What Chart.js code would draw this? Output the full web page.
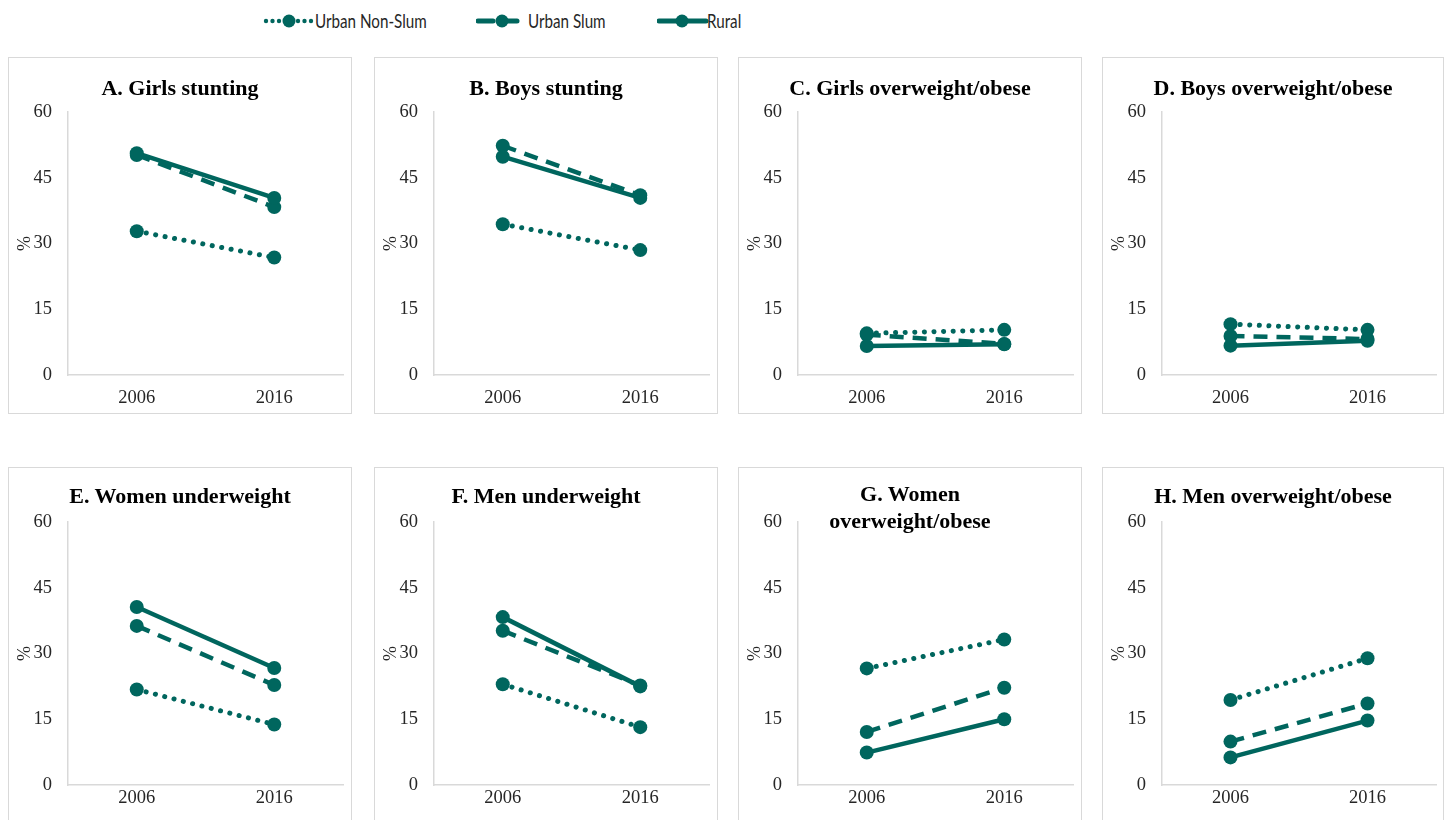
<!DOCTYPE html>
<html>
<head>
<meta charset="utf-8">
<script src="https://cdn.jsdelivr.net/npm/chart.js@4.4.1/dist/chart.umd.min.js"></script>
<style>
  body { margin: 0; background: #fff; width: 1448px; height: 820px; overflow: hidden; position: relative; font-family: 'Liberation Serif', 'Times New Roman', serif; }
  .panel { position: absolute; height: 357px; border: 1px solid #d9d9d9; box-sizing: border-box; background: #fff; }
  .panel canvas { position: absolute; left: 0; top: 0; }
  .ptitle { position: absolute; left: 0; right: 0; text-align: center; font-weight: bold; font-size: 22px; line-height: 27px; color: #000; z-index: 2; }
  .leg { position: absolute; top: 8px; height: 26px; }
  .leg svg { position: absolute; top: 0; }
  .leg span { position: absolute; top: 1px; font-family: Lato, 'Liberation Sans', sans-serif; font-size: 19px; color: #262626; white-space: nowrap; transform: scaleX(0.8); transform-origin: 0 50%; }
</style>
</head>
<body>
<div class="leg" id="legend"></div>
<div id="panels"></div>
<script>
// data
const years = ['2006', '2016'];
const seriesNames = ['Urban Non-Slum', 'Urban Slum', 'Rural'];
const panelTitles = [
  ['A. Girls stunting'],
  ['B. Boys stunting'],
  ['C. Girls overweight/obese'],
  ['D. Boys overweight/obese'],
  ['E. Women underweight'],
  ['F. Men underweight'],
  ['G. Women', 'overweight/obese'],
  ['H. Men overweight/obese'],
];
const urbanNonSlum = [[32.8, 26.8], [34.4, 28.5], [9.5, 10.3], [11.6, 10.3], [21.8, 13.8], [23.0, 13.2], [26.6, 33.2], [19.4, 28.9]];
const urbanSlum    = [[50.2, 38.3], [52.3, 41.0], [9.2, 7.1], [8.9, 8.2], [36.3, 22.8], [35.2, 22.7], [12.1, 22.2], [9.9, 18.6]];
const rural        = [[50.6, 40.4], [49.8, 40.4], [6.6, 7.0], [6.7, 7.8], [40.6, 26.7], [38.3, 22.5], [7.4, 15.0], [6.3, 14.7]];
const yTicks = [0, 15, 30, 45, 60];

const TEAL = '#00665e';
const AXIS = '#d9d9d9';
const TEXT = '#262626';
const SERIF = "'Liberation Serif', 'Times New Roman', serif";

// layout
const colLeft = [8, 374, 738, 1102];
const colWidth = [344, 344, 344, 342];
const rowTop = [57, 467];

const lineStyles = [
  { borderDash: [0.1, 9.5], borderCapStyle: 'round', borderWidth: 5, order: 3 },
  { borderDash: [14, 9], borderCapStyle: 'butt', borderWidth: 4.5, order: 2 },
  { borderDash: [], borderCapStyle: 'butt', borderWidth: 4.5, order: 1 },
];

function buildLegend() {
  const leg = document.getElementById('legend');
  const items = [
    { x: 262, w: 54, text: 315, svg: '<circle cx="4" cy="13" r="2.2"/><circle cx="10.5" cy="13" r="2.2"/><circle cx="17" cy="13" r="2.2"/><circle cx="27" cy="13" r="6.5"/><circle cx="36" cy="13" r="2.2"/><circle cx="42.5" cy="13" r="2.2"/><circle cx="49" cy="13" r="2.2"/>' },
    { x: 476, w: 44, text: 528, svg: '<line x1="2" y1="13" x2="17" y2="13" stroke="' + TEAL + '" stroke-width="5" stroke-linecap="round"/><circle cx="26" cy="13" r="6.5"/><line x1="31" y1="13" x2="41" y2="13" stroke="' + TEAL + '" stroke-width="5" stroke-linecap="round"/>' },
    { x: 657, w: 52, text: 707, svg: '<line x1="2" y1="13" x2="49" y2="13" stroke="' + TEAL + '" stroke-width="5" stroke-linecap="round"/><circle cx="25" cy="13" r="6.5"/>' },
  ];
  items.forEach((it, i) => {
    const svg = document.createElementNS('http://www.w3.org/2000/svg', 'svg');
    svg.setAttribute('width', it.w);
    svg.setAttribute('height', 26);
    svg.setAttribute('fill', TEAL);
    svg.style.left = it.x + 'px';
    svg.innerHTML = it.svg;
    leg.appendChild(svg);
    const span = document.createElement('span');
    span.textContent = seriesNames[i];
    span.style.left = it.text + 'px';
    leg.appendChild(span);
  });
}

function buildPanel(idx) {
  const row = Math.floor(idx / 4), col = idx % 4;
  const w = colWidth[col];
  const div = document.createElement('div');
  div.className = 'panel';
  div.style.left = colLeft[col] + 'px';
  div.style.top = rowTop[row] + 'px';
  div.style.width = w + 'px';
  document.getElementById('panels').appendChild(div);

  const title = document.createElement('div');
  title.className = 'ptitle';
  const lines = panelTitles[idx];
  title.style.top = (lines.length > 1 ? 12 : (row === 0 ? 16 : 14)) + 'px';
  title.innerHTML = lines.join('<br>');
  div.appendChild(title);

  const canvas = document.createElement('canvas');
  const cw = w - 2, ch = 355;
  canvas.width = cw;
  canvas.height = ch;
  canvas.style.width = cw + 'px';
  canvas.style.height = ch + 'px';
  div.appendChild(canvas);

  const seriesData = [urbanNonSlum[idx], urbanSlum[idx], rural[idx]];

  new Chart(canvas, {
    type: 'line',
    data: {
      labels: years,
      datasets: seriesData.map((d, i) => ({
        label: seriesNames[i],
        data: d,
        borderColor: TEAL,
        backgroundColor: TEAL,
        pointBackgroundColor: TEAL,
        pointBorderWidth: 0,
        pointRadius: 7,
        pointHoverRadius: 7,
        fill: false,
        tension: 0,
        ...lineStyles[i],
      })),
    },
    options: {
      responsive: false,
      animation: false,
      layout: { padding: { top: 54, right: cw - 334, left: 0, bottom: 0 } },
      plugins: { legend: { display: false }, tooltip: { enabled: false }, title: { display: false } },
      scales: {
        x: {
          offset: true,
          grid: { display: false, drawTicks: false },
          border: { display: true, color: AXIS, width: 1.5 },
          ticks: { color: TEXT, padding: row === 0 ? 12 : 2, font: { family: SERIF, size: 18.5 } },
          afterFit: (scale) => { scale.height = 38; },
        },
        y: {
          min: 0,
          max: 60,
          afterBuildTicks: (scale) => { scale.ticks = yTicks.map(v => ({ value: v })); },
          grid: { display: false, drawTicks: false },
          border: { display: true, color: AXIS, width: 1.5 },
          ticks: { color: TEXT, padding: 16, font: { family: SERIF, size: 18.5 } },
          title: { display: true, text: '%', color: TEXT, padding: { top: 5, bottom: 0 }, font: { family: SERIF, size: 18 } },
          afterFit: (scale) => { scale.width = 59; },
        },
      },
    },
  });
}

buildLegend();
for (let i = 0; i < 8; i++) buildPanel(i);
</script>
</body>
</html>
